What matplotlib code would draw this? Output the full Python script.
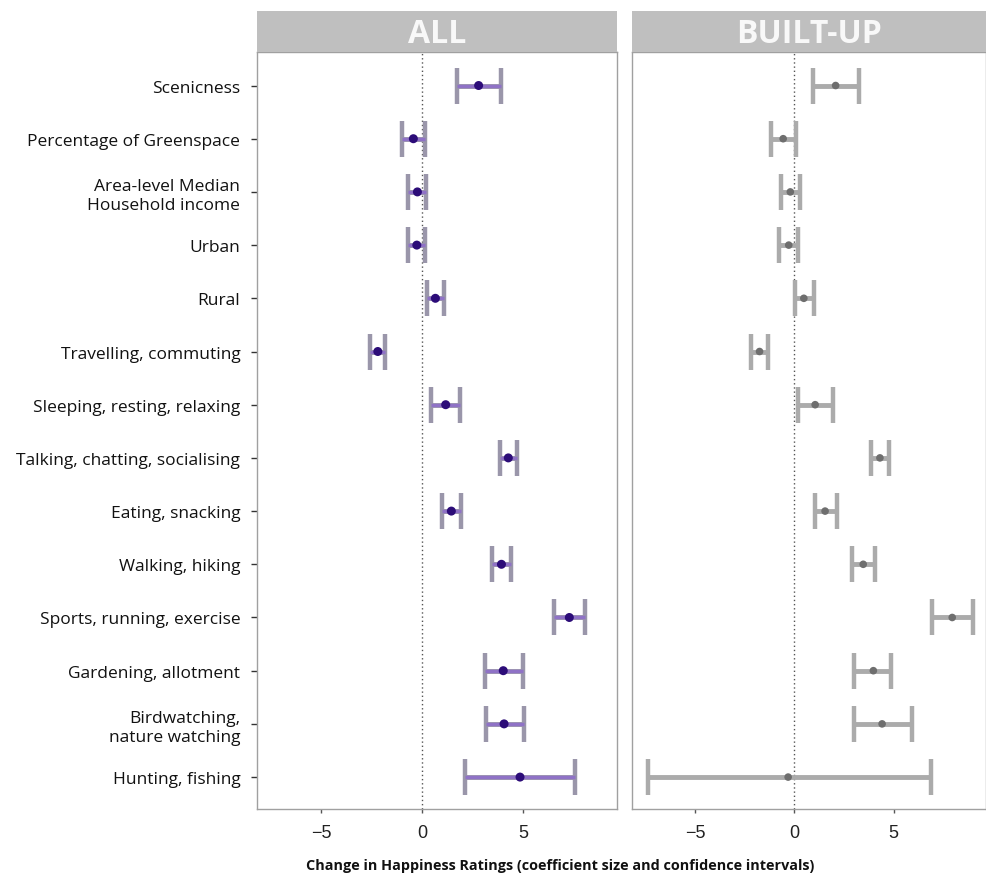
import matplotlib
matplotlib.use("Agg")
import matplotlib.pyplot as plt
import numpy as np

categories = ["Scenicness", "Percentage of Greenspace", "Area-level Median\nHousehold income",
              "Urban", "Rural", "Travelling, commuting", "Sleeping, resting, relaxing",
              "Talking, chatting, socialising", "Eating, snacking", "Walking, hiking",
              "Sports, running, exercise", "Gardening, allotment",
              "Birdwatching,\nnature watching", "Hunting, fishing"]

all_est = [2.80, -0.43, -0.23, -0.26, 0.66, -2.19, 1.17, 4.27, 1.45, 3.93, 7.29, 4.02, 4.06, 4.85]
all_lo  = [1.75, -1.00, -0.68, -0.71, 0.26, -2.56, 0.46, 3.86, 1.00, 3.45, 6.55, 3.13, 3.15, 2.11]
all_hi  = [3.90, 0.13, 0.18, 0.16, 1.07, -1.82, 1.88, 4.70, 1.95, 4.42, 8.05, 4.98, 5.05, 7.59]

bu_est = [2.08, -0.56, -0.20, -0.28, 0.48, -1.75, 1.05, 4.31, 1.55, 3.47, 7.95, 3.98, 4.42, -0.31]
bu_lo  = [0.93, -1.19, -0.69, -0.76, 0.02, -2.16, 0.20, 3.85, 1.04, 2.89, 6.92, 3.02, 3.02, -7.38]
bu_hi  = [3.28, 0.10, 0.30, 0.20, 0.99, -1.32, 1.93, 4.79, 2.13, 4.06, 9.00, 4.88, 5.93, 6.90]

panel_titles = ["ALL", "BUILT-UP"]
xticks = [-5, 0, 5]
xtick_labels = ["\u22125", "0", "5"]

W, H = 987, 878
fig = plt.figure(figsize=(W / 100, H / 100), dpi=100)
fig.patch.set_facecolor("white")

def fx(px): return px / W
def fy(py): return 1 - py / H

panels = [(257, 617), (632, 986)]
top, bottom = 53, 810
header_top = 12
xlim = (-8.17, 9.65)

datasets = [(all_est, all_lo, all_hi), (bu_est, bu_lo, bu_hi)]
n = len(categories)
ypos = np.arange(n)

for i, ((l, r), (est, lo, hi)) in enumerate(zip(panels, datasets)):
    ax = fig.add_axes([fx(l), fy(bottom), fx(r - l), (bottom - top) / H])
    est = np.array(est); lo = np.array(lo); hi = np.array(hi)
    ax.axvline(0, color="#555555", linestyle=(0, (1, 2)), lw=1, zorder=1)
    if i == 0:
        ax.errorbar(est, ypos, xerr=[est - lo, hi - est], fmt="none", ecolor="#9a96aa",
                    elinewidth=3.5, capsize=13, capthick=3.2, zorder=2)
        ax.hlines(ypos, lo, hi, color="#8f72c6", lw=2.5, zorder=3)
        ax.scatter(est, ypos, s=42, color="#2c0c78", zorder=4, edgecolors="none")
    else:
        ax.errorbar(est, ypos, xerr=[est - lo, hi - est], fmt="none", ecolor="#ababab",
                    elinewidth=3.5, capsize=13, capthick=3.2, zorder=2)
        ax.scatter(est, ypos, s=30, color="#6e6e6e", zorder=4, edgecolors="none")
    ax.set_xlim(*xlim)
    ax.set_ylim(n - 0.4, -0.63)
    ax.set_xticks(xticks)
    ax.set_xticklabels(xtick_labels, fontsize=13, family="Liberation Sans", color="#222222")
    ax.set_yticks(ypos)
    if i == 0:
        ax.set_yticklabels(categories, fontsize=12.5, family="Open Sans", color="#111111",
                           linespacing=1.25)
        ax.tick_params(axis="y", length=4, width=1, color="#333333", pad=8)
    else:
        ax.set_yticklabels([])
        ax.tick_params(axis="y", length=0)
    ax.tick_params(axis="x", length=3, width=1, color="#555555", pad=8)
    for s in ax.spines.values():
        s.set_color("#a0a0a0"); s.set_linewidth(1)
    # header strip
    hax = fig.add_axes([fx(l), fy(top), fx(r - l), (top - header_top) / H])
    hax.set_facecolor("#bfbfbf")
    hax.set_xticks([]); hax.set_yticks([])
    for s in hax.spines.values():
        s.set_visible(False)
    hax.text(0.5, 0.45, panel_titles[i], transform=hax.transAxes, ha="center", va="center",
             fontsize=23, fontweight="bold", color="#f8f8f8", family="Open Sans")

fig.text(fx(560), fy(866), "Change in Happiness Ratings (coefficient size and confidence intervals)",
         ha="center", va="center", fontsize=10.4, fontweight="bold", family="Open Sans", color="#111111")

fig.savefig("out.png", dpi=100, facecolor="white")
